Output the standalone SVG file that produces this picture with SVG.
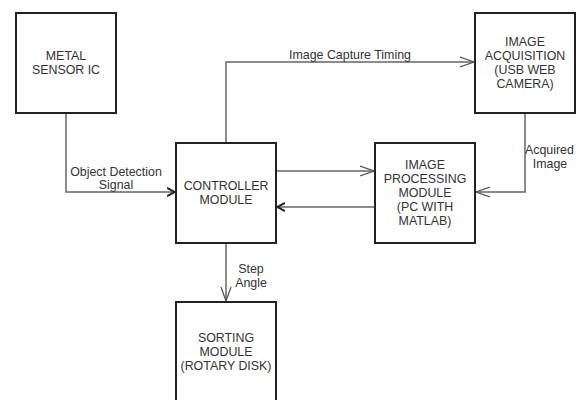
<svg xmlns="http://www.w3.org/2000/svg" width="579" height="400" viewBox="0 0 579 400">
<style>
.box{fill:#fff;stroke:#222;stroke-width:2}
.t{font-family:"Liberation Sans",Arial,sans-serif;font-size:12.4px;fill:#333;text-anchor:middle}
.c{fill:none;stroke:#666;stroke-width:1.5}
</style>
<defs>
<marker id="open" viewBox="0 0 14 12" refX="14" refY="6" markerWidth="14" markerHeight="12" markerUnits="userSpaceOnUse" orient="auto">
<path d="M0,1 L14,6 L0,11" fill="none" stroke="#555" stroke-width="1.3"/>
</marker>
<marker id="small" viewBox="0 0 8 10" refX="8" refY="5" markerWidth="8" markerHeight="10" markerUnits="userSpaceOnUse" orient="auto">
<path d="M0,1 L8,5 L0,9" fill="none" stroke="#222" stroke-width="2"/>
</marker>
</defs>
<rect width="579" height="400" fill="#fff"/>
<g id="connectors">
<path class="c" d="M66,113 V192 H175" marker-end="url(#small)"/>
<text class="t" x="116" y="176">Object Detection</text>
<text class="t" x="116" y="189">Signal</text>
<path class="c" d="M226,143 V62 H474" marker-end="url(#open)"/>
<text class="t" x="350" y="59">Image Capture Timing</text>
<path class="c" d="M525,113 V192 H476" marker-end="url(#open)"/>
<text class="t" style="text-anchor:start" x="525" y="154">Acquired</text>
<text class="t" x="550" y="168">Image</text>
<path class="c" d="M276,171 H374" marker-end="url(#open)"/>
<path class="c" d="M375,207 H277" marker-end="url(#small)"/>
<path class="c" d="M226,243 V301" marker-end="url(#open)"/>
<text class="t" x="251" y="273">Step</text>
<text class="t" x="251" y="287">Angle</text>
</g>
<g id="metal">
<rect class="box" x="16" y="13" width="100" height="100"/>
<text class="t" x="66" y="60">METAL</text>
<text class="t" x="66" y="74">SENSOR IC</text>
</g>
<g id="controller">
<rect class="box" x="176" y="143" width="100" height="100"/>
<text class="t" x="226" y="190">CONTROLLER</text>
<text class="t" x="226" y="204">MODULE</text>
</g>
<g id="acquisition">
<rect class="box" x="475" y="13" width="100" height="100"/>
<text class="t" x="525" y="46">IMAGE</text>
<text class="t" x="525" y="60">ACQUISITION</text>
<text class="t" x="525" y="74">(USB WEB</text>
<text class="t" x="525" y="88">CAMERA)</text>
</g>
<g id="processing">
<rect class="box" x="375" y="143" width="100" height="100"/>
<text class="t" x="425" y="169">IMAGE</text>
<text class="t" x="425" y="183">PROCESSING</text>
<text class="t" x="425" y="197">MODULE</text>
<text class="t" x="425" y="211">(PC WITH</text>
<text class="t" x="425" y="225">MATLAB)</text>
</g>
<g id="sorting">
<rect class="box" x="176" y="302" width="100" height="100"/>
<text class="t" x="226" y="342">SORTING</text>
<text class="t" x="226" y="356">MODULE</text>
<text class="t" x="226" y="370">(ROTARY DISK)</text>
</g>
</svg>
